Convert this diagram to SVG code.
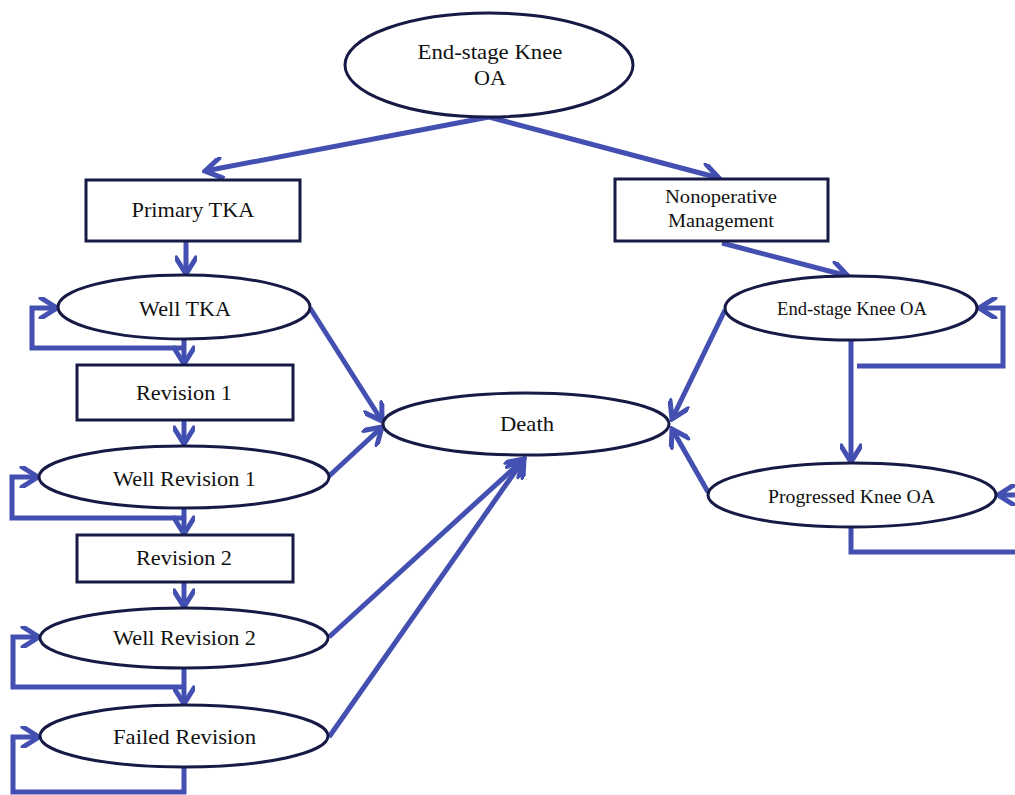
<svg xmlns="http://www.w3.org/2000/svg" width="1015" height="795" viewBox="0 0 1015 795">
<style>
.n{fill:#fff;stroke:#161a45;stroke-width:3}
.c{fill:none;stroke:#4350b2;stroke-width:5;stroke-linejoin:miter}
.a{marker-end:url(#ah)}
text{font-family:"Liberation Serif","Times New Roman",serif;fill:#111;text-anchor:middle;font-size:21px}
</style>
<defs>
<marker id="ah" markerUnits="userSpaceOnUse" viewBox="0 0 22 22" markerWidth="22" markerHeight="22" refX="19" refY="11" orient="auto">
<path d="M3,1 L19,11 L3,21" fill="none" stroke="#4350b2" stroke-width="5" stroke-linecap="round"/>
</marker>
</defs>
<rect width="1015" height="795" fill="#fff"/>
<g id="connectors">
<path class="c a" d="M489,117 L205,171"/>
<path class="c a" d="M489,117 L719,178"/>
<path class="c a" d="M186,241 L186,274"/>
<path class="c a" d="M722,243 L848,276"/>
<path class="c a" d="M310,308 L382,421"/>
<path class="c a" d="M328,477 L382,427"/>
<path class="c a" d="M329,637 L524,459"/>
<path class="c a" d="M329,737 L524,459"/>
<path class="c a" d="M725,310 L672,419"/>
<path class="c a" d="M708,492 L672,429"/>
<path class="c a" d="M851,341 L851,462"/>
<path class="c a" d="M184,340 L184,364"/>
<path class="c a" d="M184,421 L184,444"/>
<path class="c a" d="M184,509 L184,534"/>
<path class="c a" d="M184,583 L184,607"/>
<path class="c a" d="M184,669 L184,704"/>
<path class="c a" d="M184,348 L32,348 L32,308 L57,308"/>
<path class="c a" d="M184,518 L12,518 L12,477 L38,477"/>
<path class="c a" d="M184,687 L13,687 L13,637 L39,637"/>
<path class="c a" d="M184,768 L184,792 L13,792 L13,737 L39,737"/>
<path class="c a" d="M857,366 L1003,366 L1003,308 L979,308"/>
<path class="c" d="M851,528 L851,552 L1020,552"/>
<path class="c a" d="M1025,495 L998,495"/>
</g>
<g id="n-top"><ellipse class="n" cx="489" cy="65" rx="144" ry="52"/><text x="490" y="59" textLength="145" lengthAdjust="spacingAndGlyphs">End-stage Knee</text><text x="490" y="85" textLength="32" lengthAdjust="spacingAndGlyphs">OA</text></g>
<g id="n-primary"><rect class="n" x="86" y="180" width="214" height="61"/><text x="193" y="217" textLength="123" lengthAdjust="spacingAndGlyphs">Primary TKA</text></g>
<g id="n-nonop"><rect class="n" x="615" y="179" width="213" height="62"/><text x="721" y="203" style="font-size:18px" textLength="112" lengthAdjust="spacingAndGlyphs">Nonoperative</text><text x="721" y="227" style="font-size:18px" textLength="106" lengthAdjust="spacingAndGlyphs">Management</text></g>
<g id="n-welltka"><ellipse class="n" cx="184" cy="307" rx="126" ry="32"/><text x="185" y="316" textLength="92" lengthAdjust="spacingAndGlyphs">Well TKA</text></g>
<g id="n-rev1"><rect class="n" x="77" y="365" width="216" height="55"/><text x="184" y="400" textLength="96" lengthAdjust="spacingAndGlyphs">Revision 1</text></g>
<g id="n-wellrev1"><ellipse class="n" cx="184" cy="477" rx="145" ry="31"/><text x="184.5" y="486" textLength="143" lengthAdjust="spacingAndGlyphs">Well Revision 1</text></g>
<g id="n-rev2"><rect class="n" x="77" y="535" width="216" height="47"/><text x="184" y="565" textLength="96" lengthAdjust="spacingAndGlyphs">Revision 2</text></g>
<g id="n-wellrev2"><ellipse class="n" cx="184" cy="638" rx="144" ry="30"/><text x="184.5" y="645" textLength="143" lengthAdjust="spacingAndGlyphs">Well Revision 2</text></g>
<g id="n-failed"><ellipse class="n" cx="184" cy="736" rx="144" ry="31"/><text x="184.5" y="744" textLength="143" lengthAdjust="spacingAndGlyphs">Failed Revision</text></g>
<g id="n-death"><ellipse class="n" cx="526" cy="424" rx="143" ry="31"/><text x="527" y="431" textLength="54" lengthAdjust="spacingAndGlyphs">Death</text></g>
<g id="n-esoa"><ellipse class="n" cx="851" cy="308" rx="126" ry="32"/><text x="852" y="315" style="font-size:18px" textLength="150" lengthAdjust="spacingAndGlyphs">End-stage Knee OA</text></g>
<g id="n-prog"><ellipse class="n" cx="852" cy="495" rx="144" ry="32"/><text x="851.5" y="503" style="font-size:19px" textLength="167" lengthAdjust="spacingAndGlyphs">Progressed Knee OA</text></g>
</svg>
